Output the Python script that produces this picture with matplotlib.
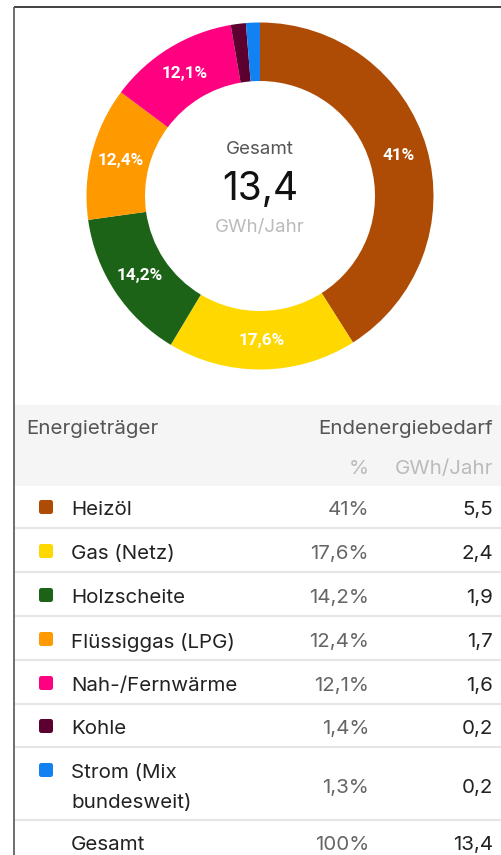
import matplotlib
matplotlib.use("Agg")
import matplotlib.pyplot as plt
from matplotlib.patches import FancyBboxPatch, Rectangle
import numpy as np

categories = ["Heizöl", "Gas (Netz)", "Holzscheite", "Flüssiggas (LPG)",
              "Nah-/Fernwärme", "Kohle", "Strom (Mix\nbundesweit)"]
percent = [41.0, 17.6, 14.2, 12.4, 12.1, 1.4, 1.3]
percent_labels = ["41%", "17,6%", "14,2%", "12,4%", "12,1%", "1,4%", "1,3%"]
gwh_labels = ["5,5", "2,4", "1,9", "1,7", "1,6", "0,2", "0,2"]
colors = ["#AE4C05", "#FFD800", "#1C6318", "#FF9900", "#FF0080", "#5C0030", "#1282F2"]
total_label = "13,4"

FONT = ["Inter", "DejaVu Sans"]
plt.rcParams["font.family"] = FONT
FS = 14.8

W, H = 502, 855
fig = plt.figure(figsize=(W / 100, H / 100), dpi=100)
ax = fig.add_axes([0, 0, 1, 1])

# donut
cx, cy, R, r_in = 260, 196, 173.5, 115
wedges, _ = ax.pie(percent, colors=colors, startangle=-90, counterclock=True,
                   center=(cx, cy), radius=R,
                   wedgeprops=dict(width=R - r_in, linewidth=0), frame=True)
ax.set_xlim(0, W)
ax.set_ylim(H, 0)
ax.set_aspect("equal", adjustable="box")
ax.axis("off")

# border (top and left)
ax.plot([14, W], [7, 7], color="#222222", lw=1.2, solid_capstyle="butt")
ax.plot([14, 14], [7, H], color="#555555", lw=1.2, solid_capstyle="butt")

rm = (R + r_in) / 2
for w, lab, p in zip(wedges, percent_labels, percent):
    if p < 5:
        continue
    ang = np.deg2rad((w.theta1 + w.theta2) / 2)
    x = cx + rm * np.cos(ang)
    y = cy + rm * np.sin(ang)
    ax.text(x, y, lab, ha="center", va="center", color="white",
            fontsize=12.3, fontweight="bold", family=["Roboto", "DejaVu Sans"])

ax.text(cx, 149, "Gesamt", ha="center", va="center", color="#555555", fontsize=13.5)
ax.text(cx, 189, total_label, ha="center", va="center", color="#111111", fontsize=28)
ax.text(cx, 227, "GWh/Jahr", ha="center", va="center", color="#BBBBBB", fontsize=13.5)

# table header
ax.add_patch(Rectangle((15, 405), W - 15, 81, color="#F5F5F5", lw=0))
x_name, x_pct, x_val, x_sq = 71, 369, 493, 39
ax.text(26, 429, "Energieträger", ha="left", va="center", color="#555555", fontsize=FS)
ax.text(x_val, 429, "Endenergiebedarf", ha="right", va="center", color="#555555", fontsize=FS)
ax.text(x_pct, 469, "%", ha="right", va="center", color="#BBBBBB", fontsize=FS)
ax.text(x_val, 469, "GWh/Jahr", ha="right", va="center", color="#BBBBBB", fontsize=FS)

row_y = [510, 554, 598, 642, 686, 729, 788]
sep_y = [528, 572, 616, 660, 704, 747, 820]
for i, (name, pl, gl, col) in enumerate(zip(categories, percent_labels, gwh_labels, colors)):
    y = row_y[i]
    if "\n" in name:
        lines = name.split("\n")
        ax.text(x_name, y - 15, lines[0], ha="left", va="center", color="#222222", fontsize=FS)
        ax.text(x_name, y + 15, lines[1], ha="left", va="center", color="#222222", fontsize=FS)
        sq_y = y - 25
    else:
        ax.text(x_name, y, name, ha="left", va="center", color="#222222", fontsize=FS)
        sq_y = y - 10
    ax.add_patch(FancyBboxPatch((x_sq, sq_y), 14, 14,
                                boxstyle="round,pad=0,rounding_size=2.5",
                                facecolor=col, edgecolor="none"))
    ax.text(x_pct, y, pl, ha="right", va="center", color="#666666", fontsize=FS)
    ax.text(x_val, y, gl, ha="right", va="center", color="#222222", fontsize=FS)
    ax.plot([15, W], [sep_y[i], sep_y[i]], color="#E6E6E6", lw=1.5, solid_capstyle="butt")

ax.text(x_name, 845, "Gesamt", ha="left", va="center", color="#222222", fontsize=FS)
ax.text(x_pct, 845, "100%", ha="right", va="center", color="#666666", fontsize=FS)
ax.text(x_val, 845, total_label, ha="right", va="center", color="#222222", fontsize=FS)

fig.savefig("out.png", dpi=100)
